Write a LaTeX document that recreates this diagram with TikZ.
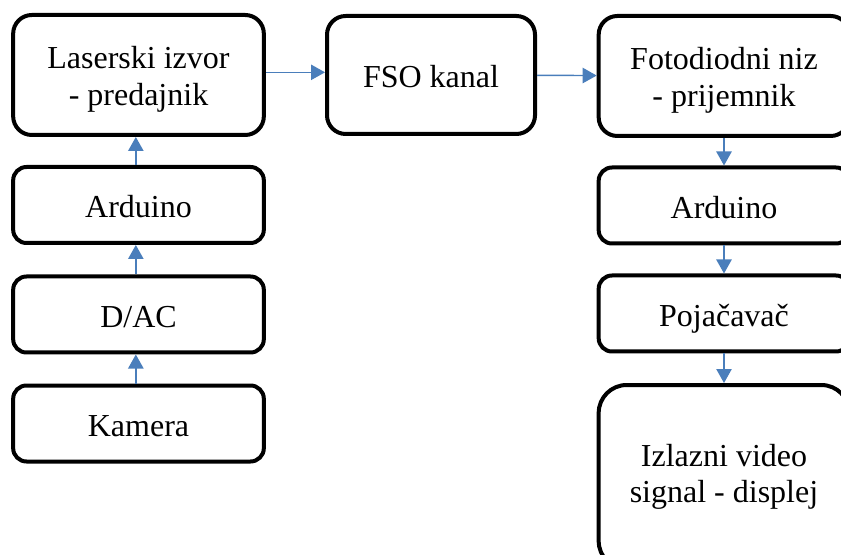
\documentclass[tikz,border=0pt]{standalone}
\usepackage{fontspec}
\setmainfont{Liberation Serif}
\usetikzlibrary{arrows.meta}
\definecolor{plava}{HTML}{4A7EBB}

\begin{document}
\begin{tikzpicture}[x=0.75pt, y=-0.75pt, font=\fontsize{24}{27.5}\selectfont,
  blok/.style={draw, line width=3pt, align=center, inner sep=0pt, minimum width=188pt},
  jedan/.style={text height=19pt, text depth=0pt},
  velik/.style={blok, minimum height=90pt, rounded corners=14pt},
  mali/.style={blok, jedan, minimum height=57pt, rounded corners=10pt},
  strelica/.style={-{Triangle[length=10.5pt, width=11.5pt]}, draw=plava, line width=1.1pt}]
% page = 841 x 555 px, coordinates in px
\useasboundingbox (0,0) rectangle (841,555);
\def\gore{\rule{0pt}{23pt}} % pushes two-line text a bit down
% transmitter side
\node[velik] (laser) at (138.5,75) {\gore Laserski izvor\\- predajnik};
\node[mali] (ardTx) at (138.5,205) {Arduino};
\node[mali] (dac) at (138.5,314.5) {D/AC};
\node[mali] (kamera) at (138.5,423.5) {Kamera};
% channel
\node[velik, jedan, minimum width=156pt, minimum height=88.5pt] (fso) at (431,75) {FSO kanal};
% receiver side
\node[velik] (foto) at (724,76) {\gore Fotodiodni niz\\- prijemnik};
\node[mali] (ardRx) at (724,205.5) {Arduino};
\node[mali] (pojacavac) at (724,313.5) {Pojačavač};
\node[blok, minimum height=138pt, rounded corners=21pt] (izlaz) at (724,477)
  {Izlazni video\\signal - displej};
% connectors
\draw[strelica] ([xshift=-2pt]kamera.north) -- ([xshift=-2pt]dac.south);
\draw[strelica] ([xshift=-2pt]dac.north) -- ([xshift=-2pt]ardTx.south);
\draw[strelica] ([xshift=-2pt]ardTx.north) -- ([xshift=-2pt]laser.south);
\draw[strelica] ([yshift=2pt]laser.east) -- ([yshift=2pt]fso.west);
\draw[strelica] (fso) -- (foto);
\draw[strelica] (foto) -- (ardRx);
\draw[strelica] (ardRx) -- (pojacavac);
\draw[strelica] (pojacavac) -- (izlaz);
\end{tikzpicture}
\end{document}
